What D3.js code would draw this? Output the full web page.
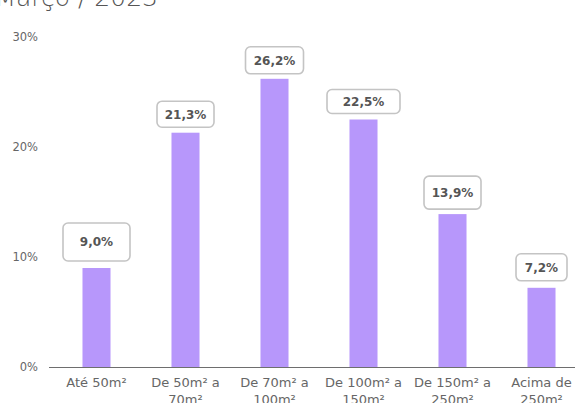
<!DOCTYPE html>
<html>
<head>
<meta charset="utf-8">
<script src="https://cdn.jsdelivr.net/npm/d3@7"></script>
<style>
  html, body { margin: 0; padding: 0; background: #fff; }
  svg { display: block; font-family: "DejaVu Sans", sans-serif; }
</style>
</head>
<body>
<svg id="chart" width="575" height="403"></svg>
<script>
// ---- data ----
const categories = [
  ["Até 50m²"],
  ["De 50m² a", "70m²"],
  ["De 70m² a", "100m²"],
  ["De 100m² a", "150m²"],
  ["De 150m² a", "250m²"],
  ["Acima de", "250m²"]
];
const values = [9.0, 21.3, 26.2, 22.5, 13.9, 7.2];
const valueLabels = ["9,0%", "21,3%", "26,2%", "22,5%", "13,9%", "7,2%"];
const yTicks = [0, 10, 20, 30];
const yTickLabels = ["0%", "10%", "20%", "30%"];
const titleText = "Março / 2023";

// ---- layout (style, not data) ----
const boxW = [67, 57, 58, 73, 57, 51];
const boxH = [38, 26, 27, 24, 33, 27];
const boxGap = [7, 5.5, 5, 6, 5, 7];

const svg = d3.select("#chart");
const x = d3.scaleBand().domain(d3.range(values.length)).range([52, 586]).padding(0);
const y = d3.scaleLinear().domain([0, 30]).range([367, 37]);
const barW = x.bandwidth() * 0.315;
const cx = i => x(i) + x.bandwidth() / 2;

// title (partially clipped at top)
svg.append("text")
  .attr("x", 158).attr("y", 6)
  .attr("text-anchor", "end")
  .attr("font-size", 25)
  .attr("font-weight", 300)
  .attr("fill", "#555")
  .text(titleText);

// y tick labels
svg.append("g").selectAll("text")
  .data(yTicks)
  .join("text")
  .attr("x", 38)
  .attr("y", d => y(d))
  .attr("dy", "0.35em")
  .attr("text-anchor", "end")
  .attr("font-size", 11.5)
  .attr("fill", "#666")
  .text((d, i) => yTickLabels[i]);

// bars
svg.append("g").selectAll("rect")
  .data(values)
  .join("rect")
  .attr("x", (d, i) => cx(i) - barW / 2)
  .attr("width", barW)
  .attr("y", d => y(d))
  .attr("height", d => y(0) - y(d))
  .attr("fill", "#b797fb");

// baseline
svg.append("line")
  .attr("x1", 49).attr("x2", 575)
  .attr("y1", y(0) + 0.5).attr("y2", y(0) + 0.5)
  .attr("stroke", "#6e6e6e")
  .attr("stroke-width", 1.2);

// value label boxes
const lab = svg.append("g").selectAll("g")
  .data(values)
  .join("g")
  .attr("transform", (d, i) => `translate(${cx(i)},${y(d) - boxGap[i] - boxH[i] / 2})`);
lab.append("rect")
  .attr("x", (d, i) => -boxW[i] / 2)
  .attr("y", (d, i) => -boxH[i] / 2)
  .attr("width", (d, i) => boxW[i])
  .attr("height", (d, i) => boxH[i])
  .attr("rx", 5).attr("ry", 5)
  .attr("fill", "#fff")
  .attr("stroke", "#c4c4c4")
  .attr("stroke-width", 1.6);
lab.append("text")
  .attr("text-anchor", "middle")
  .attr("dy", "0.36em")
  .attr("font-size", 12)
  .attr("font-weight", "bold")
  .attr("fill", "#555")
  .text((d, i) => valueLabels[i]);

// x category labels
const xl = svg.append("g").selectAll("text")
  .data(categories)
  .join("text")
  .attr("x", (d, i) => cx(i))
  .attr("y", 387)
  .attr("text-anchor", "middle")
  .attr("font-size", 13)
  .attr("fill", "#666");
xl.selectAll("tspan")
  .data(d => d)
  .join("tspan")
  .attr("x", function () { return d3.select(this.parentNode).attr("x"); })
  .attr("dy", (d, j) => j === 0 ? 0 : 17)
  .text(d => d);
</script>
</body>
</html>
